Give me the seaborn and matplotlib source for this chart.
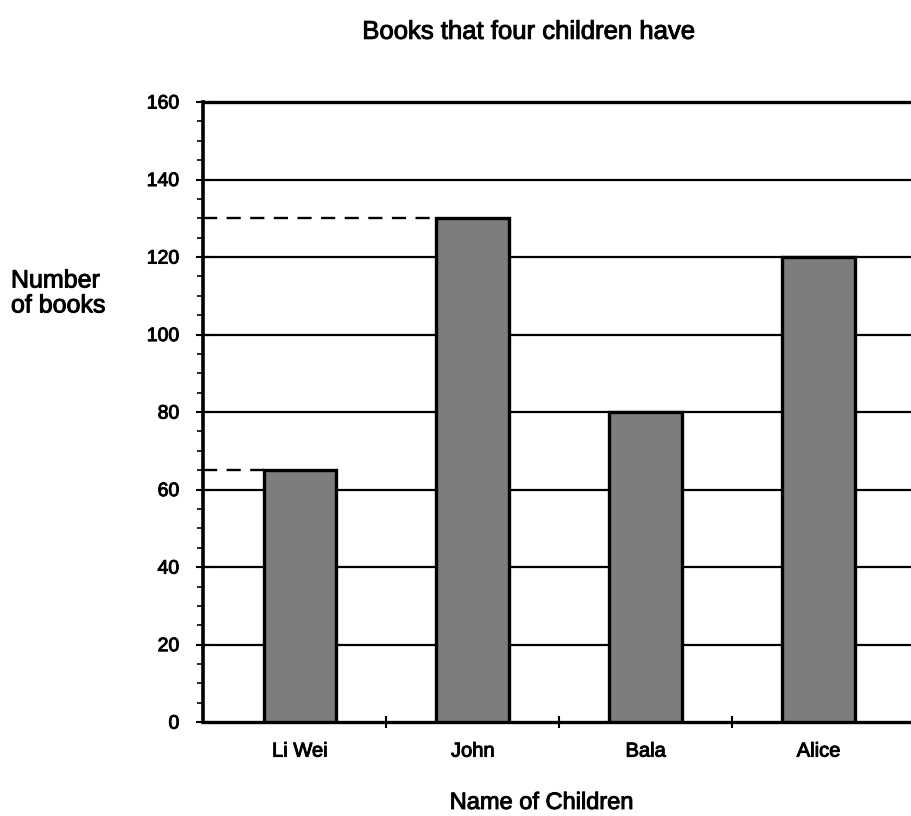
import matplotlib
matplotlib.use("Agg")
import matplotlib.pyplot as plt
import matplotlib.patheffects as pe
import seaborn as sns
import pandas as pd
from matplotlib.ticker import MultipleLocator, FixedLocator

children = ["Li Wei", "John", "Bala", "Alice"]
books = [65, 130, 80, 120]
y_ticks = [0, 20, 40, 60, 80, 100, 120, 140, 160]
dashed_marks = {"Li Wei": 65, "John": 130}

sns.set_theme(style="white")
plt.rcParams['font.family'] = ['Liberation Sans', 'DejaVu Sans']

# scanned text looks heavier than plain regular, thicken it a bit
heavy = [pe.withStroke(linewidth=0.7, foreground="black")]

df = pd.DataFrame({"child": children, "books": books})

fig = plt.figure(figsize=(9.12, 8.16), dpi=100)
ax = fig.add_axes([0.2226, 0.115, 0.7774, 0.76])

# horizontal grid lines first so bars sit over them
for v in y_ticks[1:]:
    ax.axhline(v, color="black", lw=1.6, zorder=1)

sns.barplot(data=df, x="child", y="books", ax=ax, width=0.42,
            color="#7d7d7d", edgecolor="black", linewidth=2.4,
            saturation=1, zorder=3)

# dashed guide lines from the axis to the bar tops
for i, name in enumerate(children):
    if name in dashed_marks:
        bar_left = i - 0.21
        ax.hlines(dashed_marks[name], -0.56, bar_left, colors="black",
                  linestyles=(0, (6, 4)), lw=1.7, zorder=4)

ax.set_xlim(-0.56, 3.54)
ax.set_ylim(0, 160)
ax.yaxis.set_major_locator(FixedLocator(y_ticks))
ax.yaxis.set_minor_locator(MultipleLocator(5))
ax.xaxis.set_minor_locator(FixedLocator([0.5, 1.5, 2.5]))

ax.tick_params(axis="y", which="major", direction="inout", length=10, width=1.5,
               labelsize=14, left=True, pad=12, colors="black")
ax.tick_params(axis="y", which="minor", direction="out", length=4, width=1.2,
               left=True, colors="black")
ax.tick_params(axis="x", which="major", length=0, labelsize=14.5, pad=14,
               colors="black")
ax.tick_params(axis="x", which="minor", direction="inout", length=8, width=1.5,
               bottom=True, colors="black")
for lab in ax.get_xticklabels() + ax.get_yticklabels():
    lab.set_path_effects(heavy)

ax.spines["right"].set_visible(False)
ax.spines["left"].set_linewidth(2.6)
ax.spines["bottom"].set_linewidth(2.4)
ax.spines["top"].set_linewidth(2.4)
for s in ["left", "bottom", "top"]:
    ax.spines[s].set_color("black")

ax.set_xlabel("")
ax.set_ylabel("")
fig.text(0.594, 0.016, "Name of Children", fontsize=17, ha="center", va="center",
         color="black", path_effects=heavy)
fig.text(0.012, 0.641, "Number\nof books", fontsize=18, ha="left", va="center",
         linespacing=1.05, color="black", path_effects=heavy)
fig.text(0.580, 0.961, "Books that four children have", fontsize=18.5,
         ha="center", va="center", color="black", path_effects=heavy)

fig.savefig("out.png", dpi=100, facecolor="white")
